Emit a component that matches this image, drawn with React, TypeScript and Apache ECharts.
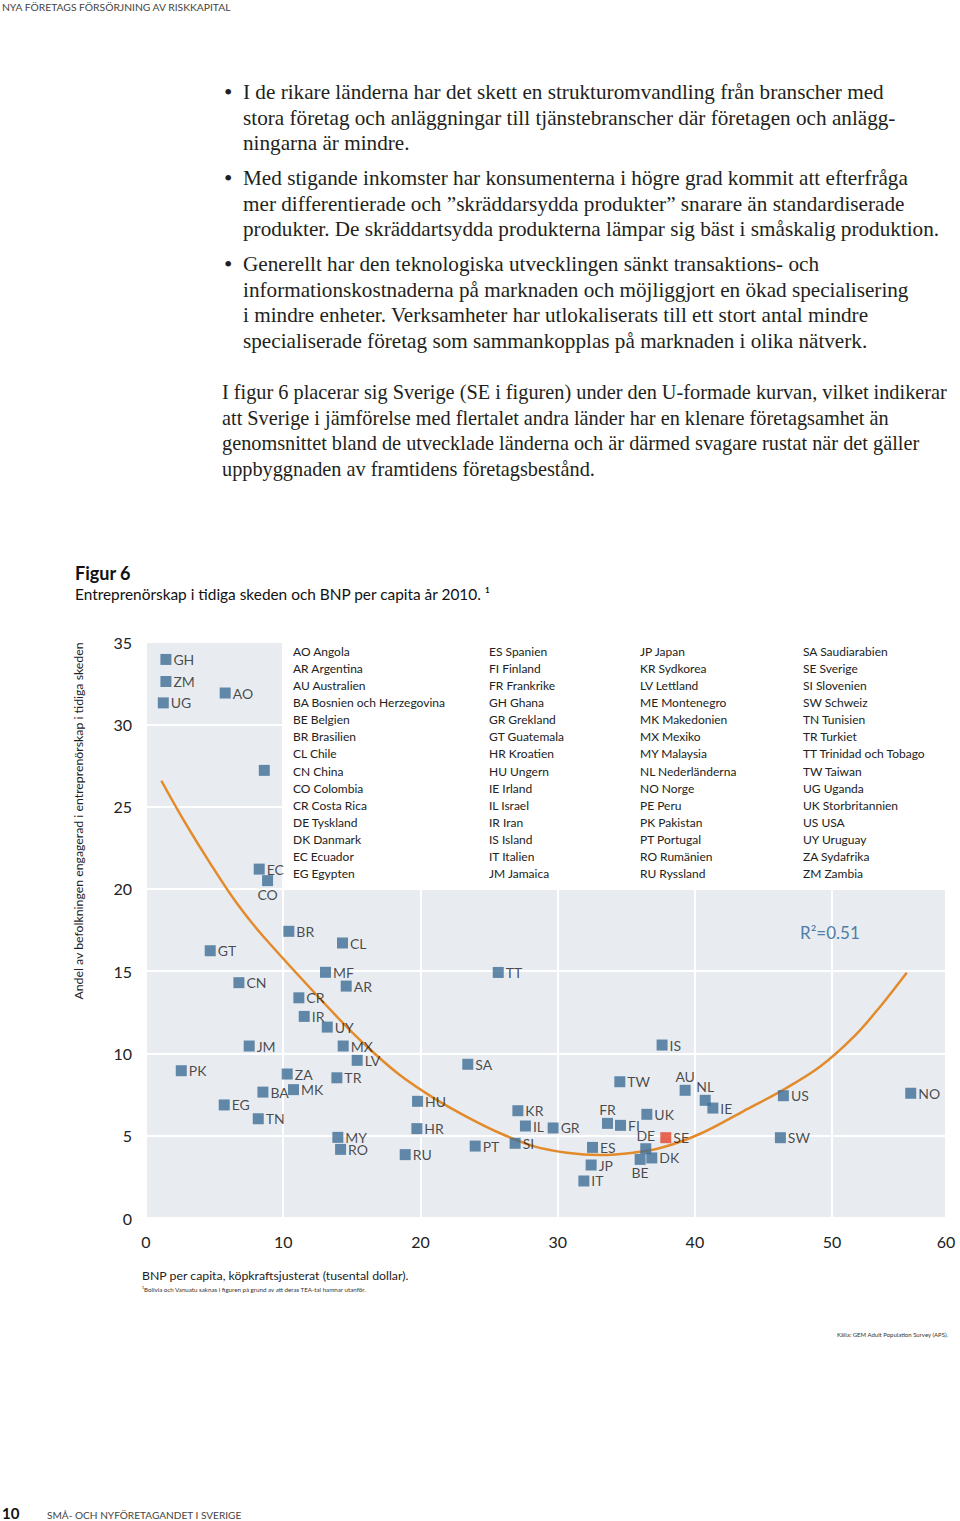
import React, { useEffect, useRef } from 'react';
import * as echarts from 'echarts';

// ---------- data ----------
const countryCodes = ['GH','ZM','UG','AO','PE','EC','CO','BR','GT','CL','MF','CN','AR','CR','IR','UY','JM','MX','LV','PK','ZA','TR','BA','MK','EG','TN','HU','HR','MY','RO','RU','TT','SA','IS','TW','AU','KR','FR','FI','UK','IL','GR','SE','DE','DK','BE','PT','SI','ES','JP','IT','NL','IE','US','SW','NO'];
const gdpPerCapita = [1.45,1.45,1.26,5.77,8.62,8.25,8.86,10.41,4.68,14.32,13.08,6.77,14.59,11.14,11.53,13.21,7.52,14.37,15.39,2.57,10.29,13.91,8.52,10.75,5.70,8.18,19.79,19.74,13.98,14.18,18.89,25.67,23.45,37.61,34.53,39.29,27.1,33.63,34.58,36.5,27.65,29.67,37.88,36.42,36.86,36.01,23.99,26.9,32.54,32.44,31.91,40.75,41.31,46.45,46.23,55.73];
const teaRate = [33.94,32.6,31.3,31.9,27.2,21.2,20.5,17.42,16.24,16.71,14.93,14.3,14.09,13.38,12.25,11.6,10.45,10.45,9.58,8.95,8.75,8.52,7.65,7.8,6.87,6.03,7.09,5.43,4.9,4.17,3.85,14.92,9.34,10.51,8.28,7.76,6.52,5.75,5.63,6.3,5.59,5.47,4.88,4.21,3.65,3.56,4.37,4.54,4.29,3.22,2.25,7.15,6.68,7.43,4.88,7.58];
const labelPlacement: Record<string, string> = { PE: 'none', CO: 'bottom', AU: 'top', NL: 'top', FR: 'top', DE: 'top', BE: 'bottom' };
const highlightCode = 'SE';

const trendGdp = [1.12,2.74,4.68,6.62,8.57,13.91,15.85,18.4,20.95,23.38,25.81,28.24,30.67,33.1,35.52,37.48,40.39,43.55,46.47,49.13,51.57,53.5,55.44];
const trendTea = [26.57,24.18,21.55,19.12,17.09,12.23,10.61,8.75,7.3,6.15,5.15,4.37,3.97,3.83,3.97,4.25,5.12,6.5,7.8,9.2,11.0,12.84,14.9];

const xTickLabels = ['0','10','20','30','40','50','60'];
const rSquaredText = 'R²=0.51';

const legendCodes = ['AO','AR','AU','BA','BE','BR','CL','CN','CO','CR','DE','DK','EC','EG','ES','FI','FR','GH','GR','GT','HR','HU','IE','IL','IR','IS','IT','JM','JP','KR','LV','ME','MK','MX','MY','NL','NO','PE','PK','PT','RO','RU','SA','SE','SI','SW','TN','TR','TT','TW','UG','UK','US','UY','ZA','ZM'];
const legendNames = ['Angola','Argentina','Australien','Bosnien och Herzegovina','Belgien','Brasilien','Chile','China','Colombia','Costa Rica','Tyskland','Danmark','Ecuador','Egypten','Spanien','Finland','Frankrike','Ghana','Grekland','Guatemala','Kroatien','Ungern','Irland','Israel','Iran','Island','Italien','Jamaica','Japan','Sydkorea','Lettland','Montenegro','Makedonien','Mexiko','Malaysia','Nederländerna','Norge','Peru','Pakistan','Portugal','Rumänien','Ryssland','Saudiarabien','Sverige','Slovenien','Schweiz','Tunisien','Turkiet','Trinidad och Tobago','Taiwan','Uganda','Storbritannien','USA','Uruguay','Sydafrika','Zambia'];

const headerText = 'NYA FÖRETAGS FÖRSÖRJNING AV RISKKAPITAL';
const bulletLines = [
  ['I de rikare länderna har det skett en strukturomvandling från branscher med',
   'stora företag och anläggningar till tjänstebranscher där företagen och anlägg-',
   'ningarna är mindre.'],
  ['Med stigande inkomster har konsumenterna i högre grad kommit att efterfråga',
   'mer differentierade och ”skräddarsydda produkter” snarare än standardiserade',
   'produkter. De skräddartsydda produkterna lämpar sig bäst i småskalig produktion.'],
  ['Generellt har den teknologiska utvecklingen sänkt transaktions- och',
   'informationskostnaderna på marknaden och möjliggjort en ökad specialisering',
   'i mindre enheter. Verksamheter har utlokaliserats till ett stort antal mindre',
   'specialiserade företag som sammankopplas på marknaden i olika nätverk.'],
];
const paragraphLines = [
  'I figur 6 placerar sig Sverige (SE i figuren) under den U-formade kurvan, vilket indikerar',
  'att Sverige i jämförelse med flertalet andra länder har en klenare företagsamhet än',
  'genomsnittet bland de utvecklade länderna och är därmed svagare rustat när det gäller',
  'uppbyggnaden av framtidens företagsbestånd.',
];
const figureTitle = 'Figur 6';
const figureSubtitle = 'Entreprenörskap i tidiga skeden och BNP per capita år 2010. ¹';
const yAxisTitle = 'Andel av befolkningen engagerad i entreprenörskap i tidiga skeden';
const xAxisTitle = 'BNP per capita, köpkraftsjusterat (tusental dollar).';
const footnoteText = '¹Bolivia och Vanuatu saknas i figuren på grund av att deras TEA-tal hamnar utanför.';
const sourceText = 'Källa: GEM Adult Population Survey (APS).';
const pageNumber = '10';
const footerText = 'SMÅ- OCH NYFÖRETAGANDET I SVERIGE';

// ---------- styles ----------
const SANS = 'Lato, "Noto Sans", sans-serif';
const SERIF = '"Liberation Serif", "DejaVu Serif", serif';
const BLUE = '#3e6e96';
const RED = '#e4412b';
const ORANGE = '#e38a2b';
const PLOT_BG = '#e8ecf1';
const INK = '#231f20';

export default function App() {
  const ref = useRef<HTMLDivElement>(null);

  useEffect(() => {
    document.body.style.margin = '0';
    if (!ref.current) return;
    const chart = echarts.init(ref.current, undefined, { renderer: 'svg' });

    const gridLeft = 146, gridTop = 642, gridWidth = 800, gridHeight = 576;

    const scatterData = countryCodes.map((code, i) => {
      const place = labelPlacement[code] || 'right';
      return {
        name: code,
        value: [gdpPerCapita[i], teaRate[i]],
        itemStyle: { color: code === highlightCode ? RED : BLUE },
        label: place === 'none' ? { show: false } : { show: true, position: place as any, distance: place === 'right' ? 2 : 1 },
      };
    });

    const graphics: any[] = [];
    const txt = (text: string, x: number, y: number, o: any = {}) => {
      graphics.push({
        type: 'text', x, y, z: o.z ?? 5, z2: o.z2 ?? 0, rotation: o.rotation ?? 0,
        style: {
          text, fill: o.fill ?? INK, fontSize: o.fontSize ?? 12, fontFamily: o.fontFamily ?? SANS,
          fontWeight: o.fontWeight ?? 'normal', textAlign: o.align ?? 'left', textVerticalAlign: 'middle',
        },
      });
    };

    // header/footer
    txt(headerText, 2, 7, { fontSize: 10.3, fill: '#444' });
    txt(pageNumber, 2, 1513, { fontSize: 15, fontWeight: 'bold', fill: '#111' });
    txt(footerText, 47, 1515, { fontSize: 10.1, fill: '#444' });

    // body text
    const lineStep = 25.7;
    const bulletStarts = [92, 178, 264];
    bulletLines.forEach((lines, bi) => {
      txt('•', 224, bulletStarts[bi], { fontSize: 24, fontFamily: SERIF });
      lines.forEach((l, li) => txt(l, 243, bulletStarts[bi] + li * lineStep, { fontSize: 21.2, fontFamily: SERIF }));
    });
    paragraphLines.forEach((l, li) => txt(l, 222, 392 + li * lineStep, { fontSize: 20.3, fontFamily: SERIF }));

    // figure titles
    txt(figureTitle, 75, 573, { fontSize: 18, fontWeight: 'bold', fill: '#111' });
    txt(figureSubtitle, 75, 594, { fontSize: 15.4, fill: '#111' });

    // legend box
    graphics.push({ type: 'rect', z: 1, z2: 0, shape: { x: 282, y: gridTop, width: gridLeft + gridWidth - 282, height: 888 - gridTop }, style: { fill: '#ffffff' } });
    const legendColX = [293, 489, 640, 803];
    legendCodes.forEach((code, i) => {
      const col = Math.floor(i / 14), row = i % 14;
      txt(code + ' ' + legendNames[i], legendColX[col], 651 + row * 17.15, { fontSize: 12, z: 1, z2: 2, fill: '#222' });
    });

    // axis titles etc.
    txt(yAxisTitle, 78, 821, { fontSize: 12.3, rotation: Math.PI / 2, align: 'center', fill: '#222' });
    txt(xAxisTitle, 142, 1275, { fontSize: 12.3, fill: '#222' });
    txt(footnoteText, 142, 1289, { fontSize: 6.2, fill: '#333' });
    txt(sourceText, 948, 1334, { fontSize: 6, fill: '#333', align: 'right' });
    txt(rSquaredText, 800, 932, { fontSize: 17, fill: '#4f7ea6' });

    chart.setOption({
      animation: false,
      grid: { left: gridLeft, top: gridTop, width: gridWidth, height: gridHeight, show: true, backgroundColor: PLOT_BG, borderWidth: 0, containLabel: false },
      xAxis: {
        type: 'value', min: 0, max: 58.3, interval: 10,
        axisLine: { show: false }, axisTick: { show: false },
        splitLine: { show: true, lineStyle: { color: '#ffffff', width: 2 } },
        axisLabel: { formatter: (_v: number, idx: number) => xTickLabels[idx] ?? '', fontSize: 16, fontFamily: SANS, color: '#222', margin: 15, showMaxLabel: true, showMinLabel: true },
      },
      yAxis: {
        type: 'value', min: 0, max: 35, interval: 5,
        axisLine: { show: false }, axisTick: { show: false },
        splitLine: { show: true, lineStyle: { color: '#ffffff', width: 2 } },
        axisLabel: { fontSize: 16, fontFamily: SANS, color: '#222', margin: 14 },
      },
      series: [
        {
          type: 'line', z: 2, data: trendGdp.map((x, i) => [x, trendTea[i]]), smooth: 0.35, showSymbol: false,
          lineStyle: { color: ORANGE, width: 2.5 }, silent: true,
        },
        {
          type: 'scatter', z: 3, symbol: 'rect', symbolSize: 11, data: scatterData,
          label: { show: true, formatter: '{b}', fontSize: 14, fontFamily: SANS, color: '#1e1e1e' },
        },
      ],
      graphic: graphics,
    });

    return () => chart.dispose();
  }, []);

  return <div ref={ref} style={{ position: 'absolute', left: 0, top: 0, width: 960, height: 1521 }} />;
}
